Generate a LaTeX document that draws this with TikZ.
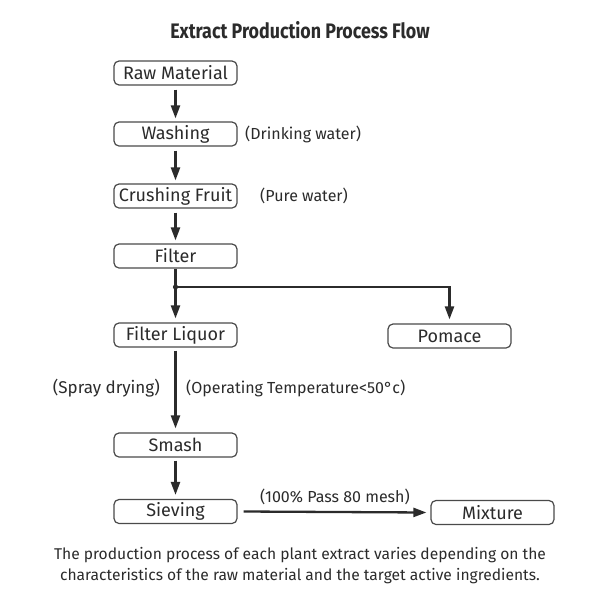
\documentclass[tikz,border=0pt]{standalone}
\usepackage{fontspec}
\setmainfont{Fira Sans}
\usetikzlibrary{arrows.meta}
\definecolor{ink}{HTML}{2B2B2B}
\definecolor{boxline}{HTML}{4A4A4A}
\begin{document}
\begin{tikzpicture}[x=1pt,y=-1pt,
  procbox/.style={draw=boxline,line width=1.2pt,rounded corners=5pt,minimum width=123pt,minimum height=24pt,inner sep=0pt,text=ink,font=\fontsize{18}{20}\selectfont},
  flow/.style={draw=ink,line width=2.3pt,-{Triangle[length=13pt,width=9pt]}},
  plain/.style={draw=ink,line width=2.3pt},
  note/.style={text=ink,font=\fontsize{16}{19}\selectfont,inner sep=0pt}]
\useasboundingbox[fill=white] (0,0) rectangle (600,600);
\node[text=ink,font=\bfseries\fontsize{21}{24}\selectfont] (title) at (300,30) {\scalebox{0.85}[1]{Extract Production Process Flow}};
\node[procbox] (raw) at (175.5,73) {Raw Material};
\node[procbox] (wash) at (175.5,134) {Washing};
\node[procbox] (crush) at (175.5,196) {Crushing Fruit};
\node[procbox] (filter) at (175.5,256) {Filter};
\node[procbox] (liquor) at (175.5,335) {Filter Liquor};
\node[procbox] (pomace) at (449.5,336) {Pomace};
\node[procbox] (smash) at (175.5,445) {Smash};
\node[procbox] (sieve) at (175.5,511.5) {Sieving};
\node[procbox] (mix) at (492.5,512.5) {Mixture};
\node[note,anchor=west] (drink) at (245,134) {(Drinking water)};
\node[note,anchor=west] (pure) at (260,196) {(Pure water)};
\node[note,anchor=east,font=\fontsize{17}{19}\selectfont] (spray) at (160,388) {(Spray drying)};
\node[note,anchor=west] (temp) at (186,388) {(Operating Temperature<50°c)};
\node[note] (mesh) at (335,497) {(100\% Pass 80 mesh)};
\node[note,align=center,font=\fontsize{15.6}{21}\selectfont] (cap) at (300,566) {The production process of each plant extract varies depending on the\\characteristics of the raw material and the target active ingredients.};
\coordinate (junc) at (175.5,287);
\coordinate (corner) at (449.5,287);
\draw[flow] ([yshift=-4pt]raw.south) -- ([yshift=3pt]wash.north);
\draw[flow] ([yshift=-4pt]wash.south) -- ([yshift=3pt]crush.north);
\draw[flow] ([yshift=-4pt]crush.south) -- ([yshift=3pt]filter.north);
\draw[plain] (filter.south) -- (junc);
\draw[flow] (junc) -- ([yshift=4pt]liquor.north);
\draw[flow] (junc) -- (corner) -- ([yshift=4pt]pomace.north);
\fill[ink] (junc) circle (2.6pt);
\draw[flow] ([yshift=-3pt]liquor.south) -- ([yshift=4pt]smash.north);
\draw[flow] ([yshift=-3pt]smash.south) -- ([yshift=4pt]sieve.north);
\draw[flow] ([xshift=6pt]sieve.east) -- ([xshift=-4pt]mix.west);
\end{tikzpicture}
\end{document}
